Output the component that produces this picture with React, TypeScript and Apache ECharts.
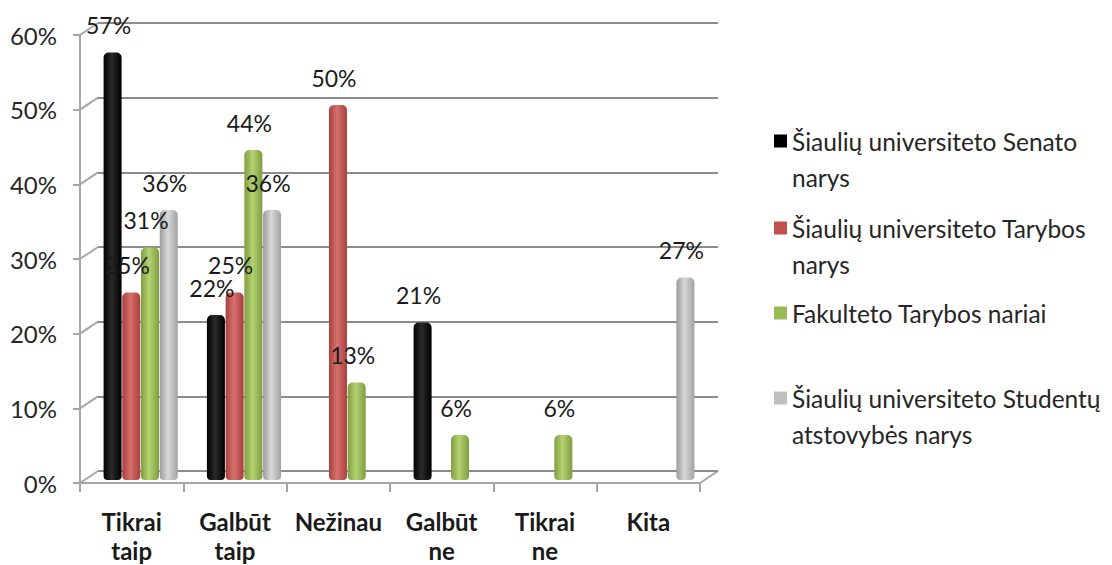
import React, { useEffect, useRef } from "react";
import * as echarts from "echarts";

const categories = ["Tikrai taip", "Galbūt taip", "Nežinau", "Galbūt ne", "Tikrai ne", "Kita"];
const seriesNames = [
  "Šiaulių universiteto Senato narys",
  "Šiaulių universiteto Tarybos narys",
  "Fakulteto Tarybos nariai",
  "Šiaulių universiteto Studentų atstovybės narys",
];
const senato = [57, 22, 0, 21, 0, 0];
const tarybos = [25, 25, 50, 0, 0, 0];
const fakulteto = [31, 44, 13, 6, 6, 0];
const studentu = [36, 36, 0, 0, 0, 27];
const legendLines = [
  ["Šiaulių universiteto Senato", "narys"],
  ["Šiaulių universiteto Tarybos", "narys"],
  ["Fakulteto Tarybos nariai"],
  ["Šiaulių universiteto Studentų", "atstovybės narys"],
];
const yTicks = [0, 10, 20, 30, 40, 50, 60];

const FONT = "Lato, 'Open Sans', sans-serif";
const W = 1112;
const H = 565;
// layout (pixels)
const FRONT = { left: 80, right: 700, top: 35, bottom: 483 };
const BACK = { left: 98, right: 718, top: 23, bottom: 471 };
const BARS = { left: 89, right: 709, top: 30, bottom: 480 };
const legendTops = [82, 169, 290, 339];

const legendColors = ["#000000", "#c0504d", "#9bbb59", "#bfbfbf"];
const palettes = [
  ["#000000", "#2a2a2a", "#000000"],
  ["#a8403d", "#d6716d", "#a8403d"],
  ["#7f9d40", "#b3d270", "#7f9d40"],
  ["#9c9c9c", "#d8d8d8", "#a2a2a2"],
];

function grad(p: string[]) {
  return new echarts.graphic.LinearGradient(0, 0, 1, 0, [
    { offset: 0, color: p[0] },
    { offset: 0.45, color: p[1] },
    { offset: 1, color: p[2] },
  ]);
}

export default function App() {
  const ref = useRef<HTMLDivElement>(null);
  useEffect(() => {
    if (!ref.current) return;
    document.body.style.margin = "0";
    const chart = echarts.init(ref.current, null, { renderer: "svg" });
    const values = [senato, tarybos, fakulteto, studentu];
    const perUnit = (FRONT.bottom - FRONT.top) / 60;

    const graphics: any[] = [];
    yTicks.forEach((v) => {
      graphics.push({
        type: "line",
        shape: {
          x1: FRONT.left,
          y1: FRONT.bottom - v * perUnit,
          x2: BACK.left,
          y2: BACK.bottom - v * perUnit,
        },
        style: { stroke: "#a6a6a6", lineWidth: 2 },
        silent: true,
      });
    });
    graphics.push({
      type: "line",
      shape: { x1: FRONT.right, y1: FRONT.bottom, x2: BACK.right, y2: BACK.bottom },
      style: { stroke: "#a6a6a6", lineWidth: 2 },
      silent: true,
    });

    const legends = seriesNames.map((name, i) => ({
      show: true,
      left: 769,
      top: legendTops[i],
      orient: "vertical",
      data: [{ name, itemStyle: { color: legendColors[i] } }],
      icon: "rect",
      itemWidth: 13,
      itemHeight: 13,
      itemGap: 0,
      selectedMode: false,
      formatter: () =>
        legendLines[i].length > 1 ? " \n" + legendLines[i].join("\n") : legendLines[i][0],
      textStyle: {
        fontFamily: FONT,
        fontSize: 24.5,
        color: "#262626",
        lineHeight: 36,
      },
    }));

    const option: any = {
      animation: false,
      backgroundColor: "#ffffff",
      textStyle: { fontFamily: FONT },
      legend: legends,
      grid: [
        { left: BACK.left, right: W - BACK.right, top: BACK.top, bottom: H - BACK.bottom },
        { left: FRONT.left, right: W - FRONT.right, top: FRONT.top, bottom: H - FRONT.bottom },
        { left: BARS.left, right: W - BARS.right, top: BARS.top, bottom: H - BARS.bottom },
      ],
      xAxis: [
        { gridIndex: 0, type: "category", data: categories, show: false },
        {
          gridIndex: 1,
          type: "category",
          data: categories,
          axisLine: { show: true, lineStyle: { color: "#a6a6a6", width: 2 } },
          axisTick: { show: true, length: 9, lineStyle: { color: "#a6a6a6", width: 2 } },
          axisLabel: {
            interval: 0,
            margin: 24,
            fontFamily: FONT,
            fontSize: 24,
            fontWeight: "bold",
            color: "#1a1a1a",
            lineHeight: 29,
            formatter: (v: string) => v.replace(" ", "\n"),
          },
        },
        { gridIndex: 2, type: "category", data: categories, show: false },
      ],
      yAxis: [
        {
          gridIndex: 0,
          type: "value",
          min: 0,
          max: 60,
          interval: 10,
          axisLine: { show: false },
          axisTick: { show: false },
          axisLabel: { show: false },
          splitLine: { show: true, lineStyle: { color: "#8c8c8c", width: 2 } },
        },
        {
          gridIndex: 1,
          type: "value",
          min: 0,
          max: 60,
          interval: 10,
          axisLine: { show: true, lineStyle: { color: "#a6a6a6", width: 2 } },
          axisTick: { show: true, length: 7, lineStyle: { color: "#a6a6a6", width: 2 } },
          splitLine: { show: false },
          axisLabel: {
            margin: 23,
            fontFamily: FONT,
            fontSize: 24,
            color: "#262626",
            formatter: (v: number) => v + "%",
          },
        },
        { gridIndex: 2, type: "value", min: 0, max: 60, interval: 10, show: false, splitLine: { show: false } },
      ],
      graphic: graphics,
      series: seriesNames.map((name, i) => ({
        name,
        type: "bar",
        xAxisIndex: 2,
        yAxisIndex: 2,
        data: values[i].map((v) => (v === 0 ? null : v)),
        barWidth: 18,
        barGap: "4%",
        itemStyle: {
          color: grad(palettes[i]),
          borderRadius: [5, 5, 4, 4],
        },
        label: {
          show: true,
          position: "top",
          distance: 18,
          offset: [-4, 0],
          fontFamily: FONT,
          fontSize: 23,
          lineHeight: 19,
          color: "#1a1a1a",
          formatter: (p: any) => (p.value ? p.value + "%" : ""),
        },
      })),
    };
    chart.setOption(option);
    return () => chart.dispose();
  }, []);
  return <div ref={ref} style={{ width: W, height: H }} />;
}
